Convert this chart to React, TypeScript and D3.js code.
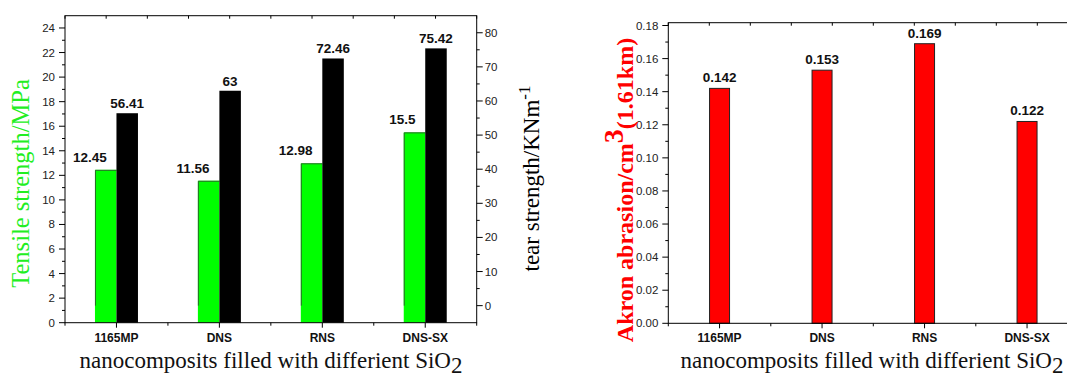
import React from "react";
import * as d3 from "d3";

const categories = ["1165MP", "DNS", "RNS", "DNS-SX"];
const tensile = [12.45, 11.56, 12.98, 15.5];
const tear = [56.41, 63, 72.46, 75.42];
const abrasion = [0.142, 0.153, 0.169, 0.122];
const tensileTicks = [0, 2, 4, 6, 8, 10, 12, 14, 16, 18, 20, 22, 24];
const tearTicks = [0, 10, 20, 30, 40, 50, 60, 70, 80];
const abrasionTicks = [0, 0.02, 0.04, 0.06, 0.08, 0.1, 0.12, 0.14, 0.16, 0.18];

const SANS = "Arial, 'Liberation Sans', sans-serif";
const SERIF = "'Times New Roman', 'Liberation Serif', serif";

function Frame({ x0, x1, y0, y1 }: { x0: number; x1: number; y0: number; y1: number }) {
  const topTicks = d3.range(0, 11).map((i) => x0 + ((x1 - x0) * i) / 10);
  return (
    <g>
      <rect x={x0} y={y0} width={x1 - x0} height={y1 - y0} fill="none" stroke="#000" strokeWidth={1} />
      {topTicks.map((t, i) => (
        <line key={i} x1={t} x2={t} y1={y0} y2={y0 + 3} stroke="#000" strokeWidth={1} />
      ))}
    </g>
  );
}

function BottomAxis({ x, y }: { x: d3.ScaleBand<string>; y: number }) {
  const bw = x.bandwidth();
  const edges = x.domain().map((c) => (x(c) as number)).concat([(x(x.domain()[x.domain().length - 1]) as number) + bw]);
  return (
    <g>
      {edges.map((e, i) => (
        <line key={"m" + i} x1={e} x2={e} y1={y} y2={y + 3} stroke="#000" />
      ))}
      {x.domain().map((c) => {
        const cx = (x(c) as number) + bw / 2;
        return (
          <g key={c}>
            <line x1={cx} x2={cx} y1={y} y2={y + 5} stroke="#000" />
            <text x={cx} y={y + 19} textAnchor="middle" fontFamily={SANS} fontWeight="bold" fontSize={12} fill="#111">
              {c}
            </text>
          </g>
        );
      })}
    </g>
  );
}

export default function App() {
  // Left chart
  const L = { x0: 65, x1: 476.7, y0: 15.7, y1: 322.7 };
  const xL = d3.scaleBand<string>().domain(categories).range([L.x0, L.x1]).padding(0);
  const yT = d3.scaleLinear().domain([0, 25]).range([L.y1, L.y0]);
  const yR = d3.scaleLinear().domain([-5, 85]).range([L.y1, L.y0]);
  const bwL = 21.5;

  // Right chart
  const R = { x0: 668.3, x1: 1078.3, y0: 22.7, y1: 323.3 };
  const xR = d3.scaleBand<string>().domain(categories).range([R.x0, R.x1]).padding(0);
  const yA = d3.scaleLinear().domain([0, 0.1817]).range([R.y1, R.y0]);
  const bwR = 20;

  const minorT = d3.range(1, 25, 2);
  const minorR = d3.range(5, 85, 10);
  const minorA = d3.range(0.01, 0.18, 0.02);

  return (
    <svg width={1067} height={379} style={{ position: "absolute", left: 0, top: 0, background: "#fff" }}>
      <rect x={0} y={0} width={1067} height={379} fill="#fff" />
      {/* ---------- LEFT CHART ---------- */}
      {categories.map((c, i) => {
        const cx = (xL(c) as number) + xL.bandwidth() / 2;
        const gTop = yT(tensile[i]);
        const bTop = yR(tear[i]);
        return (
          <g key={c}>
            <rect x={cx - bwL} y={gTop} width={bwL} height={L.y1 - gTop} fill="#00ff00" />
            <path
              d={`M${cx - bwL + 0.5},${yR(0)} L${cx - bwL + 0.5},${gTop + 0.5} L${cx},${gTop + 0.5}`}
              fill="none"
              stroke="#2b6b2b"
              strokeWidth={1}
            />
            <rect x={cx} y={bTop} width={bwL} height={L.y1 - bTop} fill="#000" />
            <text x={cx - bwL / 2 + 1} y={gTop - 8} textAnchor="end" fontFamily={SANS} fontWeight="bold" fontSize={13.5} fill="#111">
              {tensile[i]}
            </text>
            <text x={cx + bwL / 2} y={bTop - 5} textAnchor="middle" fontFamily={SANS} fontWeight="bold" fontSize={13.5} fill="#111">
              {tear[i]}
            </text>
          </g>
        );
      })}
      <Frame {...L} />
      {/* left axis */}
      {tensileTicks.map((t) => (
        <g key={"lt" + t}>
          <line x1={L.x0 - 6} x2={L.x0} y1={yT(t)} y2={yT(t)} stroke="#000" />
          <text x={L.x0 - 10} y={yT(t) + 4} textAnchor="end" fontFamily={SANS} fontSize={11.5} fill="#222">
            {t}
          </text>
        </g>
      ))}
      {minorT.map((t) => (
        <line key={"lm" + t} x1={L.x0 - 3} x2={L.x0} y1={yT(t)} y2={yT(t)} stroke="#000" />
      ))}
      {/* right axis */}
      {tearTicks.map((t) => (
        <g key={"rt" + t}>
          <line x1={L.x1} x2={L.x1 + 6} y1={yR(t)} y2={yR(t)} stroke="#000" />
          <text x={L.x1 + 8} y={yR(t) + 4} textAnchor="start" fontFamily={SANS} fontSize={11.5} fill="#222">
            {t}
          </text>
        </g>
      ))}
      {minorR.map((t) => (
        <line key={"rm" + t} x1={L.x1} x2={L.x1 + 3} y1={yR(t)} y2={yR(t)} stroke="#000" />
      ))}
      <BottomAxis x={xL} y={L.y1} />
      <text
        transform={`translate(29,${(80 + 287) / 2}) rotate(-90)`}
        textAnchor="middle"
        fontFamily={SERIF}
        fontSize={24.5}
        fill="#22ee22"
      >
        Tensile strength/MPa
      </text>
      <text
        transform={`translate(539,${(80 + 277) / 2}) rotate(-90)`}
        textAnchor="middle"
        fontFamily={SERIF}
        fontSize={23}
        fill="#000"
      >
        <tspan>tear strength/KNm</tspan>
        <tspan dy={-9} fontSize={17}>
          -1
        </tspan>
      </text>
      <text x={271} y={368} textAnchor="middle" fontFamily={SERIF} fontSize={23} fill="#111">
        <tspan>nanocomposits filled with differient SiO</tspan>
        <tspan dy={5}>2</tspan>
      </text>

      {/* ---------- RIGHT CHART ---------- */}
      {categories.map((c, i) => {
        const cx = (xR(c) as number) + xR.bandwidth() / 2;
        const top = yA(abrasion[i]);
        return (
          <g key={"r" + c}>
            <rect x={cx - bwR / 2} y={top} width={bwR} height={R.y1 - top} fill="#ff0000" stroke="#222" strokeWidth={1} />
            <text x={cx} y={top - 6} textAnchor="middle" fontFamily={SANS} fontWeight="bold" fontSize={13.5} fill="#111">
              {abrasion[i].toFixed(3)}
            </text>
          </g>
        );
      })}
      <Frame {...R} />
      {abrasionTicks.map((t) => (
        <g key={"at" + t}>
          <line x1={R.x0 - 6} x2={R.x0} y1={yA(t)} y2={yA(t)} stroke="#000" />
          <text x={R.x0 - 10} y={yA(t) + 4} textAnchor="end" fontFamily={SANS} fontSize={11.5} fill="#222">
            {d3.format(".2f")(t)}
          </text>
        </g>
      ))}
      {minorA.map((t) => (
        <line key={"am" + t} x1={R.x0 - 3} x2={R.x0} y1={yA(t)} y2={yA(t)} stroke="#000" />
      ))}
      <BottomAxis x={xR} y={R.y1} />
      <text
        transform={`translate(633,${190}) rotate(-90)`}
        textAnchor="middle"
        fontFamily={SERIF}
        fontWeight="bold"
        fontSize={24}
        fill="#ff0000"
      >
        <tspan>Akron abrasion/cm</tspan>
        <tspan dy={-10} fontSize={28}>
          3
        </tspan>
        <tspan dy={10}>(1.61km)</tspan>
      </text>
      <text x={872} y={368} textAnchor="middle" fontFamily={SERIF} fontSize={23} fill="#111">
        <tspan>nanocomposits filled with differient SiO</tspan>
        <tspan dy={5}>2</tspan>
      </text>
    </svg>
  );
}
